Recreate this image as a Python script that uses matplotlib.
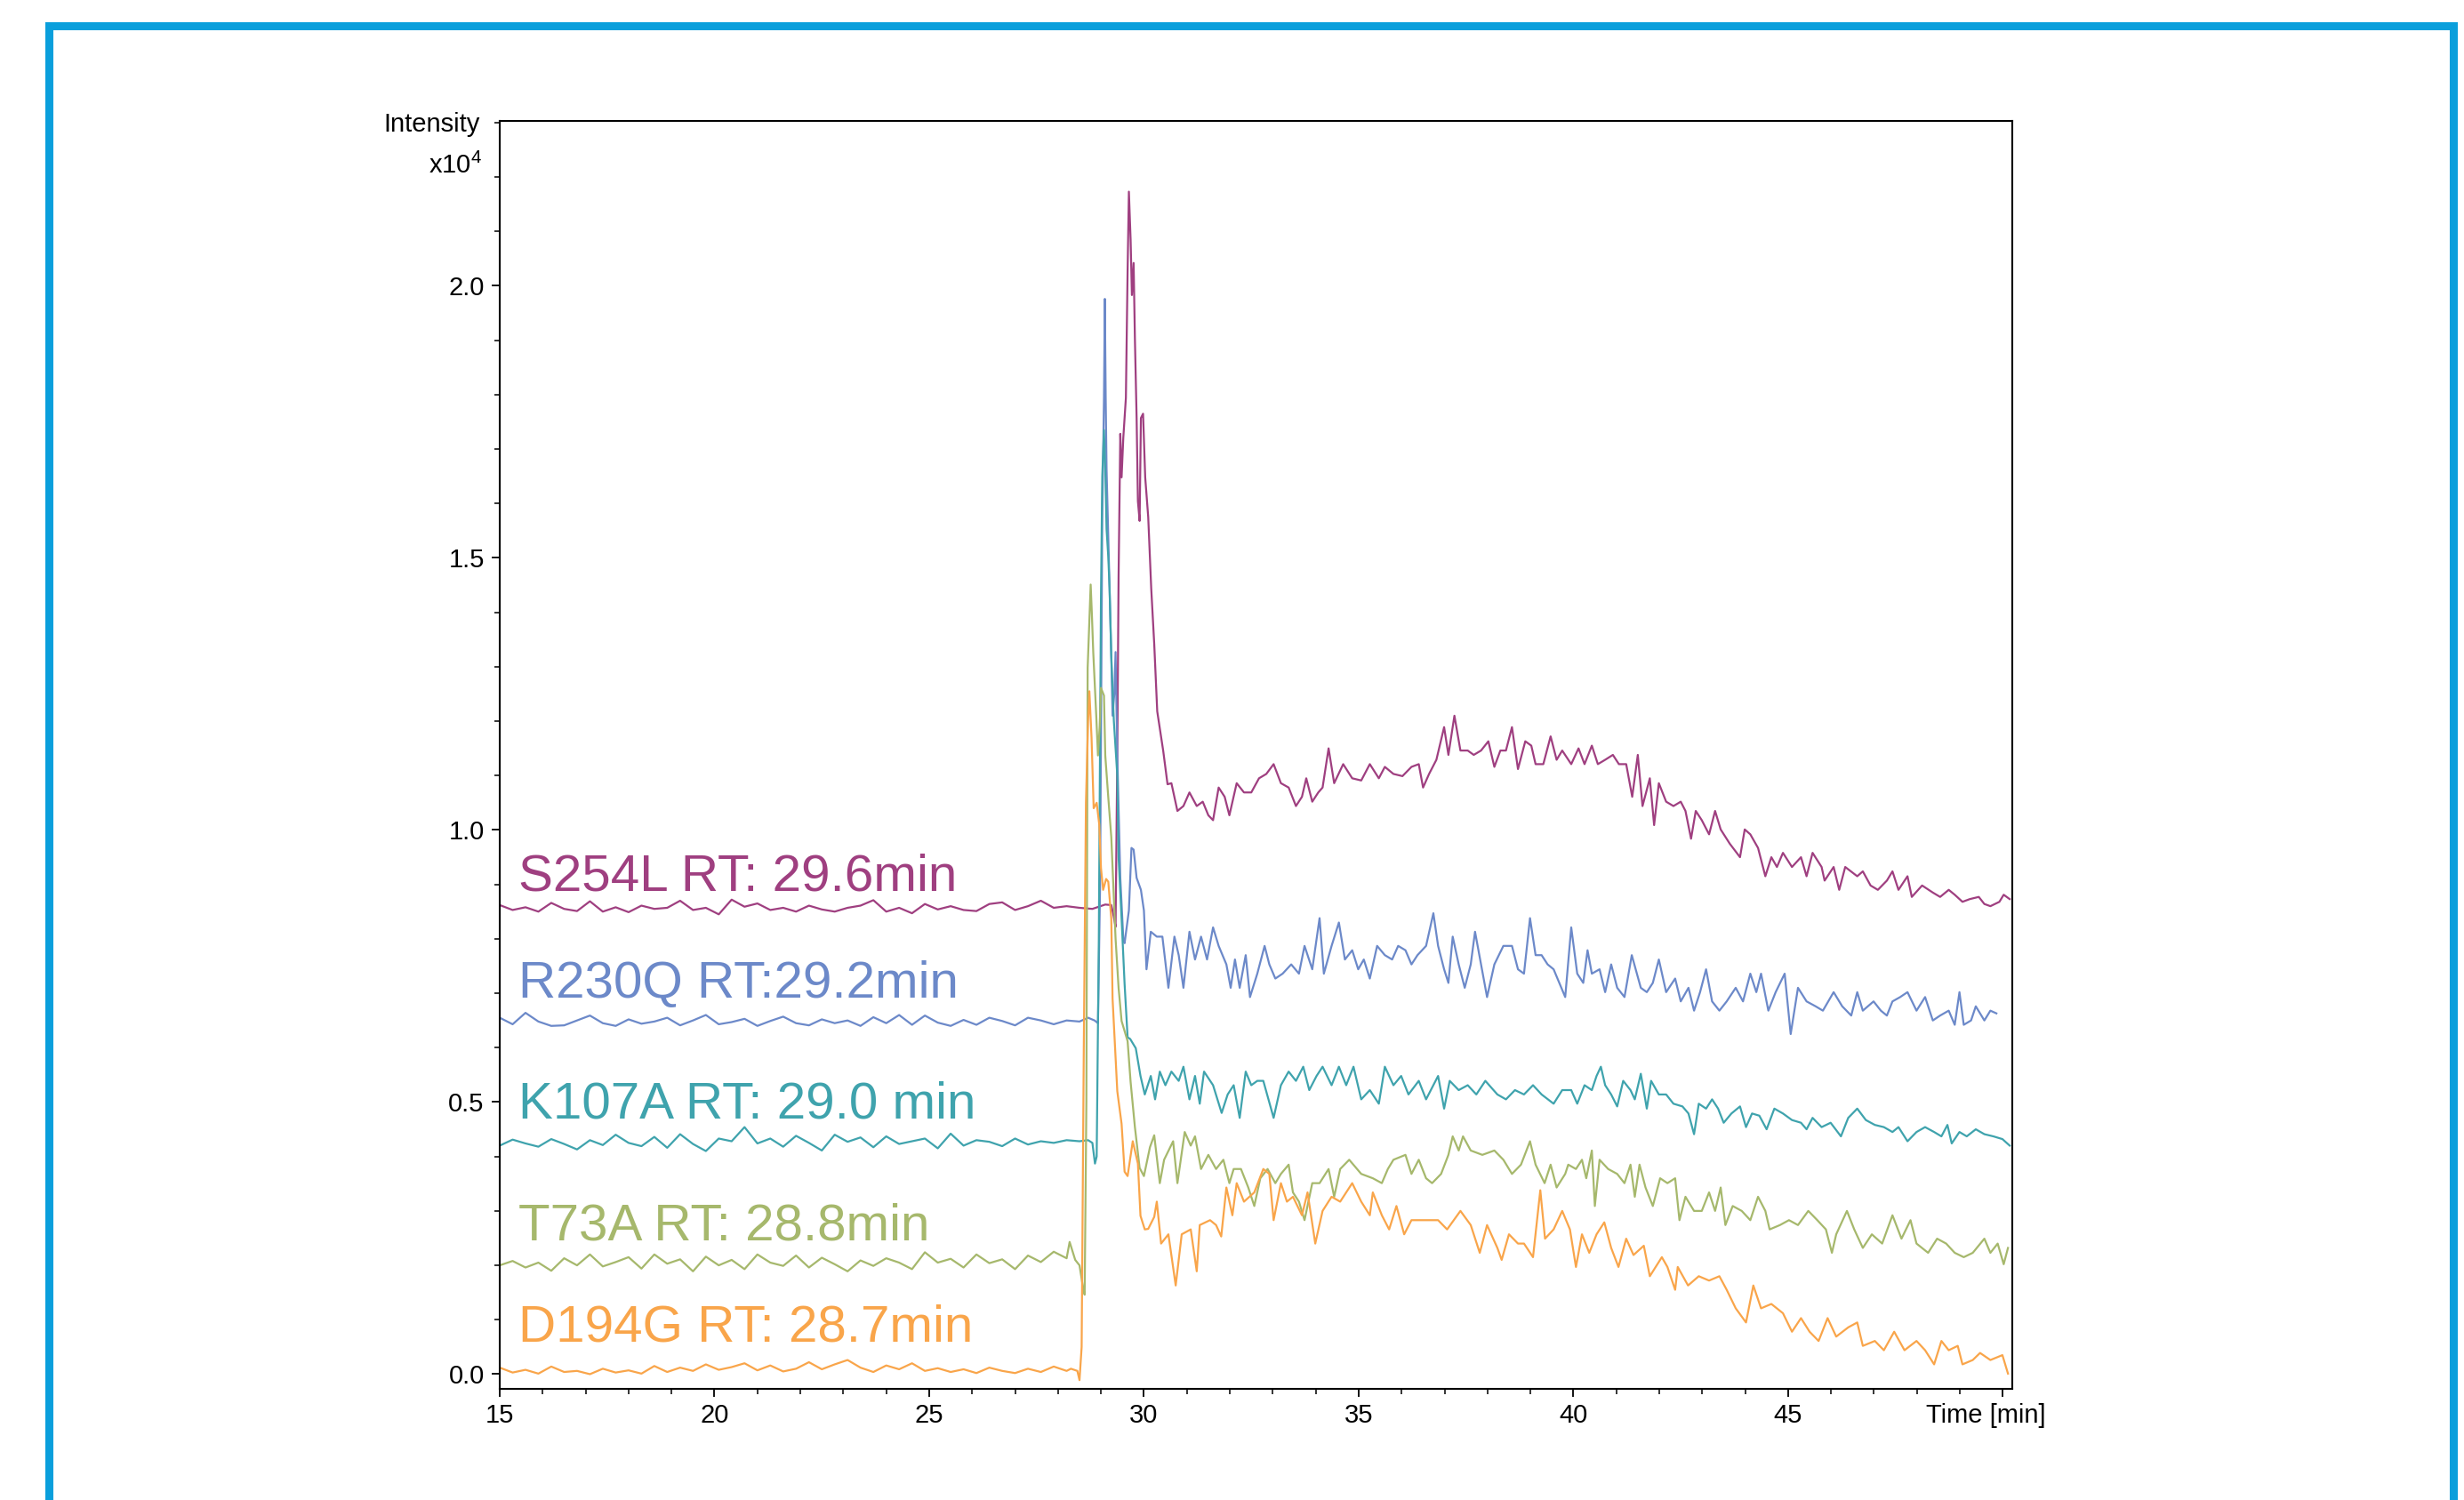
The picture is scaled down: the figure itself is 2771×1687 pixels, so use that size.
import numpy as np
import matplotlib.pyplot as plt
from matplotlib.ticker import MultipleLocator, FormatStrFormatter
from matplotlib.lines import Line2D
from matplotlib.transforms import ScaledTranslation

plt.rcParams['font.family'] = ['Liberation Sans', 'DejaVu Sans']
plt.rcParams['mathtext.fontset'] = 'custom'
plt.rcParams['mathtext.rm'] = 'Liberation Sans'

# ---- data (time in min, intensity in 1e4) ----
# shared time grid of the flat region before elution
base_t = [15.0, 15.3, 15.6, 15.9, 16.2, 16.5, 16.8, 17.1, 17.4, 17.7, 18.0,
          18.3, 18.6, 18.9, 19.2, 19.5, 19.8, 20.1, 20.4, 20.7, 21.0, 21.3,
          21.6, 21.9, 22.2, 22.5, 22.8, 23.1, 23.4, 23.7, 24.0, 24.3, 24.6,
          24.9, 25.2, 25.5, 25.8, 26.1, 26.4, 26.7, 27.0, 27.3, 27.6, 27.9, 28.2]

s254l_base = [0.862, 0.853, 0.858, 0.850, 0.866, 0.855, 0.851, 0.869, 0.850, 0.858,
              0.849, 0.861, 0.855, 0.857, 0.870, 0.853, 0.857, 0.845, 0.872, 0.859,
              0.865, 0.853, 0.857, 0.850, 0.861, 0.854, 0.850, 0.857, 0.861, 0.871,
              0.850, 0.857, 0.847, 0.864, 0.854, 0.860, 0.853, 0.851, 0.864, 0.867,
              0.853, 0.860, 0.870, 0.857, 0.860]
r230q_base = [0.655, 0.643, 0.664, 0.648, 0.640, 0.641, 0.650, 0.659, 0.645, 0.640,
              0.652, 0.644, 0.648, 0.655, 0.641, 0.650, 0.660, 0.643, 0.647, 0.653,
              0.640, 0.649, 0.657, 0.645, 0.641, 0.652, 0.645, 0.650, 0.640, 0.656,
              0.645, 0.660, 0.642, 0.659, 0.646, 0.640, 0.651, 0.642, 0.655, 0.649,
              0.641, 0.655, 0.650, 0.643, 0.650]
k107a_base = [0.420, 0.431, 0.424, 0.418, 0.432, 0.423, 0.413, 0.430, 0.421, 0.440,
              0.425, 0.419, 0.436, 0.416, 0.441, 0.423, 0.410, 0.433, 0.428, 0.454,
              0.424, 0.433, 0.418, 0.438, 0.425, 0.411, 0.440, 0.427, 0.435, 0.417,
              0.437, 0.423, 0.428, 0.433, 0.415, 0.442, 0.420, 0.430, 0.427, 0.419,
              0.433, 0.422, 0.428, 0.425, 0.430]
t73a_base = [0.200, 0.208, 0.196, 0.205, 0.190, 0.213, 0.200, 0.220, 0.198, 0.206,
             0.215, 0.194, 0.220, 0.203, 0.211, 0.189, 0.216, 0.200, 0.210, 0.193,
             0.220, 0.205, 0.199, 0.218, 0.196, 0.214, 0.202, 0.189, 0.209, 0.199,
             0.213, 0.205, 0.193, 0.224, 0.205, 0.212, 0.196, 0.220, 0.204, 0.211,
             0.193, 0.218, 0.206, 0.225, 0.213]
d194g_base = [0.012, 0.003, 0.008, 0.001, 0.014, 0.004, 0.006, 0.000, 0.010, 0.003,
              0.007, 0.001, 0.015, 0.004, 0.012, 0.006, 0.018, 0.008, 0.013, 0.020,
              0.007, 0.016, 0.005, 0.010, 0.022, 0.009, 0.018, 0.026, 0.012, 0.004,
              0.016, 0.009, 0.020, 0.006, 0.011, 0.004, 0.009, 0.002, 0.012, 0.006,
              0.002, 0.010, 0.004, 0.014, 0.006]

# elution peak and gradient part
s254l_t = [28.5, 28.8, 29.1, 29.24, 29.3, 29.34, 29.38, 29.41, 29.45, 29.48, 29.52,
           29.58, 29.62, 29.65, 29.69, 29.72, 29.76, 29.79, 29.83, 29.86, 29.9, 29.93,
           29.98, 30.03, 30.1, 30.17, 30.24, 30.31, 30.38, 30.45, 30.55, 30.64, 30.78,
           30.92, 31.06, 31.23, 31.37, 31.5, 31.61, 31.74, 31.88, 31.99, 32.16, 32.33,
           32.5, 32.68, 32.85, 33.02, 33.19, 33.37, 33.54, 33.68, 33.78, 33.92, 34.06,
           34.16, 34.3, 34.43, 34.64, 34.85, 35.06, 35.26, 35.47, 35.61, 35.81, 36.02,
           36.23, 36.4, 36.5, 36.64, 36.81, 36.99, 37.09, 37.23, 37.37, 37.54, 37.68,
           37.85, 38.02, 38.16, 38.3, 38.43, 38.57, 38.71, 38.88, 39.02, 39.12, 39.3,
           39.47, 39.61, 39.74, 39.95, 40.12, 40.26, 40.43, 40.57, 40.74, 40.92, 41.06,
           41.23, 41.37, 41.5, 41.61, 41.78, 41.88, 41.99, 42.16, 42.33, 42.5, 42.61,
           42.74, 42.85, 42.99, 43.16, 43.3, 43.43, 43.64, 43.88, 43.99, 44.12, 44.3,
           44.47, 44.61, 44.74, 44.88, 45.09, 45.3, 45.43, 45.57, 45.78, 45.85, 46.06,
           46.19, 46.33, 46.61, 46.74, 46.92, 47.09, 47.3, 47.43, 47.57, 47.78, 47.88,
           48.12, 48.37, 48.54, 48.74, 48.88, 49.06, 49.23, 49.44, 49.57, 49.71, 49.92,
           50.02, 50.16]
s254l_y = [0.857, 0.855, 0.863, 0.862, 0.840, 0.822, 1.137, 1.466, 1.728, 1.648, 1.721,
           1.794, 2.027, 2.173, 2.085, 1.983, 2.042, 1.903, 1.757, 1.604, 1.568, 1.757,
           1.765, 1.648, 1.575, 1.444, 1.342, 1.218, 1.181, 1.145, 1.084, 1.086, 1.035,
           1.044, 1.069, 1.044, 1.052, 1.027, 1.018, 1.078, 1.061, 1.027, 1.086, 1.069,
           1.069, 1.095, 1.103, 1.121, 1.086, 1.078, 1.044, 1.061, 1.095, 1.052, 1.069,
           1.078, 1.150, 1.086, 1.121, 1.095, 1.091, 1.121, 1.095, 1.116, 1.103, 1.099,
           1.116, 1.121, 1.078, 1.103, 1.129, 1.189, 1.138, 1.210, 1.146, 1.146, 1.138,
           1.146, 1.163, 1.116, 1.146, 1.146, 1.189, 1.112, 1.163, 1.155, 1.121, 1.121,
           1.172, 1.129, 1.146, 1.121, 1.150, 1.121, 1.155, 1.121, 1.129, 1.138, 1.121,
           1.121, 1.061, 1.138, 1.044, 1.095, 1.009, 1.086, 1.052, 1.044, 1.052, 1.035,
           0.984, 1.035, 1.018, 0.992, 1.035, 1.001, 0.975, 0.950, 1.001, 0.992, 0.967,
           0.915, 0.950, 0.932, 0.958, 0.932, 0.950, 0.915, 0.958, 0.932, 0.907, 0.932,
           0.890, 0.932, 0.915, 0.924, 0.898, 0.890, 0.907, 0.924, 0.890, 0.915, 0.877,
           0.898, 0.885, 0.877, 0.890, 0.881, 0.868, 0.873, 0.877, 0.864, 0.860, 0.868,
           0.881, 0.873]

r230q_t = [28.5, 28.7, 28.85, 28.93, 28.98, 29.03, 29.07, 29.09, 29.11, 29.13, 29.2,
           29.24, 29.27, 29.31, 29.34, 29.38, 29.45, 29.52, 29.55, 29.65, 29.71, 29.76,
           29.83, 29.93, 30.0, 30.06, 30.16, 30.3, 30.43, 30.57, 30.71, 30.81, 30.92,
           31.06, 31.19, 31.33, 31.47, 31.61, 31.74, 31.92, 32.02, 32.12, 32.23, 32.37,
           32.47, 32.64, 32.81, 32.92, 33.06, 33.23, 33.43, 33.61, 33.74, 33.92, 34.09,
           34.19, 34.37, 34.54, 34.68, 34.85, 34.99, 35.12, 35.26, 35.43, 35.61, 35.78,
           35.92, 36.09, 36.23, 36.37, 36.57, 36.74, 36.85, 36.99, 37.09, 37.19, 37.33,
           37.47, 37.61, 37.71, 37.85, 37.99, 38.16, 38.37, 38.57, 38.71, 38.85, 38.99,
           39.12, 39.26, 39.4, 39.54, 39.81, 39.95, 40.09, 40.23, 40.33, 40.43, 40.61,
           40.74, 40.88, 41.02, 41.19, 41.36, 41.57, 41.71, 41.85, 41.99, 42.16, 42.37,
           42.5, 42.68, 42.81, 42.95, 43.09, 43.23, 43.4, 43.57, 43.78, 43.95, 44.12,
           44.26, 44.37, 44.54, 44.71, 44.92, 45.06, 45.23, 45.43, 45.64, 45.81, 46.06,
           46.26, 46.47, 46.61, 46.74, 46.99, 47.16, 47.3, 47.43, 47.61, 47.78, 47.99,
           48.19, 48.37, 48.54, 48.74, 48.88, 48.99, 49.09, 49.26, 49.37, 49.57, 49.71,
           49.85]
r230q_y = [0.648, 0.655, 0.650, 0.645, 0.900, 1.575, 1.794, 1.976, 1.794, 1.663, 1.444,
           1.320, 1.210, 1.250, 1.327, 1.137, 0.912, 0.800, 0.792, 0.852, 0.967, 0.964,
           0.912, 0.890, 0.852, 0.744, 0.813, 0.804, 0.804, 0.710, 0.804, 0.770, 0.710,
           0.813, 0.762, 0.804, 0.762, 0.821, 0.787, 0.753, 0.710, 0.762, 0.710, 0.770,
           0.693, 0.736, 0.787, 0.753, 0.727, 0.736, 0.753, 0.736, 0.787, 0.744, 0.838,
           0.736, 0.787, 0.830, 0.762, 0.779, 0.744, 0.762, 0.727, 0.787, 0.770, 0.762,
           0.787, 0.779, 0.753, 0.770, 0.787, 0.847, 0.787, 0.744, 0.719, 0.804, 0.753,
           0.710, 0.753, 0.813, 0.753, 0.693, 0.753, 0.787, 0.787, 0.744, 0.736, 0.838,
           0.770, 0.770, 0.753, 0.744, 0.693, 0.821, 0.736, 0.719, 0.779, 0.736, 0.744,
           0.702, 0.753, 0.710, 0.693, 0.770, 0.710, 0.702, 0.719, 0.762, 0.702, 0.727,
           0.685, 0.710, 0.668, 0.702, 0.744, 0.685, 0.668, 0.685, 0.710, 0.685, 0.736,
           0.702, 0.736, 0.668, 0.702, 0.736, 0.625, 0.710, 0.685, 0.676, 0.668, 0.702,
           0.676, 0.659, 0.702, 0.668, 0.685, 0.668, 0.659, 0.685, 0.693, 0.702, 0.668,
           0.693, 0.650, 0.659, 0.668, 0.642, 0.702, 0.642, 0.650, 0.676, 0.650, 0.668,
           0.663]

k107a_t = [28.5, 28.7, 28.8, 28.86, 28.9, 28.95, 29.0, 29.03, 29.07, 29.1, 29.13,
           29.17, 29.2, 29.24, 29.3, 29.38, 29.41, 29.48, 29.55, 29.62, 29.68, 29.81,
           29.92, 30.02, 30.16, 30.26, 30.37, 30.5, 30.64, 30.81, 30.92, 31.06, 31.19,
           31.3, 31.4, 31.61, 31.81, 31.95, 32.09, 32.23, 32.37, 32.5, 32.64, 32.78,
           33.02, 33.19, 33.37, 33.54, 33.71, 33.85, 34.02, 34.16, 34.37, 34.54, 34.71,
           34.88, 35.06, 35.26, 35.47, 35.61, 35.81, 35.99, 36.16, 36.4, 36.57, 36.85,
           36.99, 37.12, 37.33, 37.54, 37.74, 37.95, 38.23, 38.43, 38.64, 38.85, 39.06,
           39.26, 39.54, 39.74, 39.95, 40.09, 40.26, 40.43, 40.54, 40.64, 40.74, 40.88,
           41.02, 41.16, 41.33, 41.43, 41.57, 41.71, 41.81, 41.99, 42.16, 42.33, 42.54,
           42.68, 42.81, 42.92, 43.09, 43.23, 43.37, 43.5, 43.68, 43.88, 44.02, 44.16,
           44.33, 44.5, 44.68, 44.88, 45.09, 45.3, 45.43, 45.57, 45.78, 45.99, 46.23,
           46.4, 46.61, 46.81, 47.02, 47.23, 47.43, 47.57, 47.78, 47.99, 48.19, 48.4,
           48.57, 48.71, 48.81, 48.99, 49.16, 49.37, 49.57, 49.78, 49.99, 50.16]
k107a_y = [0.428, 0.430, 0.425, 0.387, 0.400, 0.800, 1.430, 1.650, 1.735, 1.663, 1.553,
           1.502, 1.444, 1.320, 1.200, 1.100, 0.950, 0.837, 0.717, 0.619, 0.616, 0.599,
           0.548, 0.514, 0.548, 0.505, 0.556, 0.531, 0.556, 0.539, 0.565, 0.505, 0.548,
           0.497, 0.556, 0.531, 0.480, 0.514, 0.531, 0.471, 0.556, 0.531, 0.539, 0.539,
           0.471, 0.531, 0.556, 0.539, 0.565, 0.522, 0.548, 0.565, 0.531, 0.565, 0.531,
           0.565, 0.505, 0.522, 0.497, 0.565, 0.531, 0.548, 0.514, 0.539, 0.505, 0.548,
           0.488, 0.539, 0.522, 0.531, 0.514, 0.539, 0.514, 0.505, 0.522, 0.514, 0.531,
           0.514, 0.497, 0.522, 0.522, 0.497, 0.531, 0.522, 0.548, 0.565, 0.531, 0.514,
           0.492, 0.539, 0.522, 0.505, 0.552, 0.488, 0.539, 0.514, 0.514, 0.497, 0.492,
           0.479, 0.441, 0.497, 0.488, 0.505, 0.488, 0.462, 0.479, 0.492, 0.454, 0.479,
           0.475, 0.450, 0.488, 0.479, 0.467, 0.462, 0.450, 0.471, 0.454, 0.462, 0.437,
           0.471, 0.488, 0.467, 0.458, 0.454, 0.445, 0.454, 0.428, 0.445, 0.454, 0.445,
           0.437, 0.458, 0.424, 0.445, 0.437, 0.450, 0.441, 0.437, 0.432, 0.420]

t73a_t = [28.27, 28.4, 28.5, 28.58, 28.62, 28.66, 28.69, 28.76, 28.79, 28.82, 28.89,
          28.93, 28.97, 29.0, 29.07, 29.1, 29.17, 29.24, 29.34, 29.41, 29.48, 29.62,
          29.69, 29.79, 29.9, 30.0, 30.14, 30.24, 30.37, 30.47, 30.68, 30.78, 30.95,
          31.09, 31.19, 31.33, 31.5, 31.68, 31.85, 31.99, 32.09, 32.26, 32.43, 32.57,
          32.71, 32.88, 33.06, 33.19, 33.37, 33.47, 33.61, 33.74, 33.92, 34.09, 34.3,
          34.43, 34.57, 34.78, 35.06, 35.33, 35.54, 35.68, 35.81, 36.09, 36.23, 36.4,
          36.57, 36.71, 36.92, 37.09, 37.19, 37.33, 37.43, 37.61, 37.88, 38.16, 38.37,
          38.57, 38.78, 38.99, 39.12, 39.33, 39.47, 39.61, 39.81, 39.88, 40.06, 40.2,
          40.3, 40.43, 40.5, 40.61, 40.81, 41.02, 41.19, 41.33, 41.43, 41.54, 41.68,
          41.85, 42.02, 42.19, 42.37, 42.47, 42.61, 42.81, 42.99, 43.16, 43.3, 43.43,
          43.54, 43.71, 43.92, 44.12, 44.3, 44.47, 44.57, 44.81, 45.02, 45.23, 45.47,
          45.68, 45.88, 46.02, 46.12, 46.37, 46.54, 46.74, 46.95, 47.19, 47.43, 47.64,
          47.85, 47.99, 48.26, 48.47, 48.68, 48.88, 49.09, 49.3, 49.57, 49.71, 49.88,
          50.02, 50.12]
t73a_y = [0.243, 0.210, 0.200, 0.160, 0.146, 0.500, 1.298, 1.451, 1.393, 1.327, 1.210,
          1.137, 1.190, 1.261, 1.247, 1.137, 1.060, 0.987, 0.800, 0.710, 0.649, 0.612,
          0.537, 0.454, 0.379, 0.364, 0.417, 0.439, 0.351, 0.394, 0.428, 0.351, 0.445,
          0.420, 0.437, 0.377, 0.403, 0.377, 0.394, 0.351, 0.377, 0.377, 0.343, 0.309,
          0.360, 0.377, 0.351, 0.368, 0.385, 0.334, 0.317, 0.283, 0.351, 0.351, 0.377,
          0.326, 0.377, 0.394, 0.368, 0.360, 0.351, 0.377, 0.394, 0.403, 0.368, 0.394,
          0.360, 0.351, 0.368, 0.403, 0.437, 0.411, 0.437, 0.411, 0.403, 0.411, 0.394,
          0.368, 0.385, 0.428, 0.385, 0.351, 0.385, 0.343, 0.368, 0.385, 0.377, 0.394,
          0.360, 0.411, 0.309, 0.394, 0.377, 0.368, 0.351, 0.385, 0.326, 0.385, 0.343,
          0.309, 0.360, 0.351, 0.360, 0.283, 0.326, 0.300, 0.300, 0.334, 0.300, 0.343,
          0.274, 0.309, 0.300, 0.283, 0.326, 0.300, 0.266, 0.274, 0.283, 0.274, 0.300,
          0.283, 0.266, 0.223, 0.257, 0.300, 0.266, 0.232, 0.257, 0.240, 0.292, 0.249,
          0.283, 0.240, 0.223, 0.249, 0.240, 0.223, 0.215, 0.223, 0.249, 0.223, 0.240,
          0.202, 0.232]

d194g_t = [28.3, 28.45, 28.5, 28.55, 28.6, 28.65, 28.7, 28.73, 28.78, 28.83, 28.9,
           28.96, 29.0, 29.05, 29.12, 29.17, 29.24, 29.27, 29.38, 29.48, 29.55, 29.62,
           29.74, 29.86, 29.92, 30.02, 30.1, 30.24, 30.3, 30.4, 30.57, 30.74, 30.88,
           31.09, 31.23, 31.3, 31.54, 31.68, 31.8, 31.92, 32.06, 32.16, 32.33, 32.57,
           32.78, 32.92, 33.02, 33.19, 33.33, 33.47, 33.68, 33.81, 33.99, 34.16, 34.37,
           34.57, 34.85, 35.06, 35.26, 35.33, 35.54, 35.71, 35.88, 36.06, 36.23, 36.5,
           36.85, 37.06, 37.37, 37.61, 37.82, 37.99, 38.23, 38.33, 38.5, 38.71, 38.85,
           39.06, 39.23, 39.34, 39.54, 39.74, 39.92, 40.06, 40.2, 40.37, 40.54, 40.72,
           40.88, 41.05, 41.23, 41.4, 41.64, 41.78, 42.06, 42.19, 42.37, 42.43, 42.67,
           42.92, 43.16, 43.4, 43.57, 43.78, 44.02, 44.19, 44.37, 44.61, 44.88, 45.09,
           45.3, 45.5, 45.71, 45.92, 46.12, 46.4, 46.61, 46.74, 47.02, 47.23, 47.47,
           47.71, 47.99, 48.19, 48.4, 48.57, 48.74, 48.95, 49.06, 49.3, 49.47, 49.71,
           49.99, 50.12]
d194g_y = [0.010, 0.006, -0.011, 0.050, 0.600, 1.050, 1.200, 1.255, 1.170, 1.040, 1.050,
           1.010, 0.930, 0.890, 0.910, 0.905, 0.837, 0.690, 0.520, 0.460, 0.372, 0.364,
           0.428, 0.387, 0.291, 0.266, 0.267, 0.289, 0.317, 0.240, 0.257, 0.163, 0.257,
           0.266, 0.189, 0.274, 0.283, 0.274, 0.253, 0.343, 0.292, 0.351, 0.317, 0.334,
           0.377, 0.368, 0.283, 0.351, 0.317, 0.326, 0.292, 0.334, 0.240, 0.300, 0.326,
           0.317, 0.351, 0.317, 0.292, 0.334, 0.292, 0.266, 0.309, 0.257, 0.283, 0.283,
           0.283, 0.266, 0.300, 0.274, 0.223, 0.274, 0.232, 0.210, 0.257, 0.240, 0.240,
           0.215, 0.338, 0.249, 0.266, 0.300, 0.266, 0.197, 0.257, 0.223, 0.257, 0.279,
           0.232, 0.197, 0.249, 0.219, 0.236, 0.180, 0.215, 0.197, 0.155, 0.197, 0.163,
           0.180, 0.172, 0.180, 0.155, 0.121, 0.095, 0.163, 0.121, 0.129, 0.112, 0.078,
           0.103, 0.078, 0.061, 0.103, 0.069, 0.086, 0.095, 0.052, 0.061, 0.044, 0.078,
           0.044, 0.061, 0.044, 0.018, 0.061, 0.044, 0.052, 0.018, 0.026, 0.039, 0.026,
           0.035, 0.001]

labels = ['S254L RT: 29.6min', 'R230Q RT:29.2min', 'K107A RT: 29.0 min',
          'T73A RT: 28.8min', 'D194G RT: 28.7min']
colors = ['#9F3F80', '#6C89C9', '#3FA3AD', '#A6B86C', '#F9A54A']

series = [
    (s254l_base, s254l_t, s254l_y),
    (r230q_base, r230q_t, r230q_y),
    (k107a_base, k107a_t, k107a_y),
    (t73a_base, t73a_t, t73a_y),
    (d194g_base, d194g_t, d194g_y),
]

# ---- figure ----
W, H = 2771, 1687
fig = plt.figure(figsize=(W / 100, H / 100), dpi=100)
ax = fig.add_axes([562 / W, 1 - 1562 / H, (2263 - 562) / W, (1562 - 136) / H])

for (base, t, y), c in zip(series, colors):
    ax.plot(base_t + t, base + y, color=c, lw=1.6)

# labels sitting just above each baseline
label_y = [0.889, 0.692, 0.471, 0.247, 0.060]
for text, ly, c in zip(labels, label_y, colors):
    ax.text(15.43, ly, text, color=c, fontsize=42, va='baseline', ha='left')

ax.set_xlim(15, 50.22)
ax.set_ylim(-0.027, 2.303)

ax.xaxis.set_major_locator(MultipleLocator(5))
ax.xaxis.set_minor_locator(MultipleLocator(1))
ax.yaxis.set_major_locator(MultipleLocator(0.5))
ax.yaxis.set_minor_locator(MultipleLocator(0.1))
ax.yaxis.set_major_formatter(FormatStrFormatter('%.1f'))

xt = [15, 20, 25, 30, 35, 40, 45, 50]
ax.set_xticks(xt)
ax.set_xticklabels(['15', '20', '25', '30', '35', '40', '45', 'Time [min]'])

ax.tick_params(which='major', direction='out', length=6.5, width=1.3,
               labelsize=21, pad=5)
ax.tick_params(which='minor', direction='out', length=4.3, width=1.1)
ax.tick_params(axis='y', pad=6)

last = ax.get_xticklabels()[-1]
last.set_transform(last.get_transform() + ScaledTranslation(-0.19, 0, fig.dpi_scale_trans))

for sp in ax.spines.values():
    sp.set_linewidth(1.5)

fig.text(540 / W, 1 - 148 / H, 'Intensity', fontsize=21, ha='right', va='baseline')
fig.text(542 / W, 1 - 195 / H, 'x10$^{4}$', fontsize=21, ha='right', va='baseline')

# blue frame around the panel (open at the bottom edge)
fx0, fx1, fy = 55.5 / W, 2758.5 / W, 1 - 28.5 / H
fig.add_artist(Line2D([fx0, fx0, fx1, fx1], [-0.02, fy, fy, -0.02],
                      transform=fig.transFigure, color='#0A9FDC', lw=6.5,
                      solid_joinstyle='miter'))

fig.savefig('out.png', dpi=100)
